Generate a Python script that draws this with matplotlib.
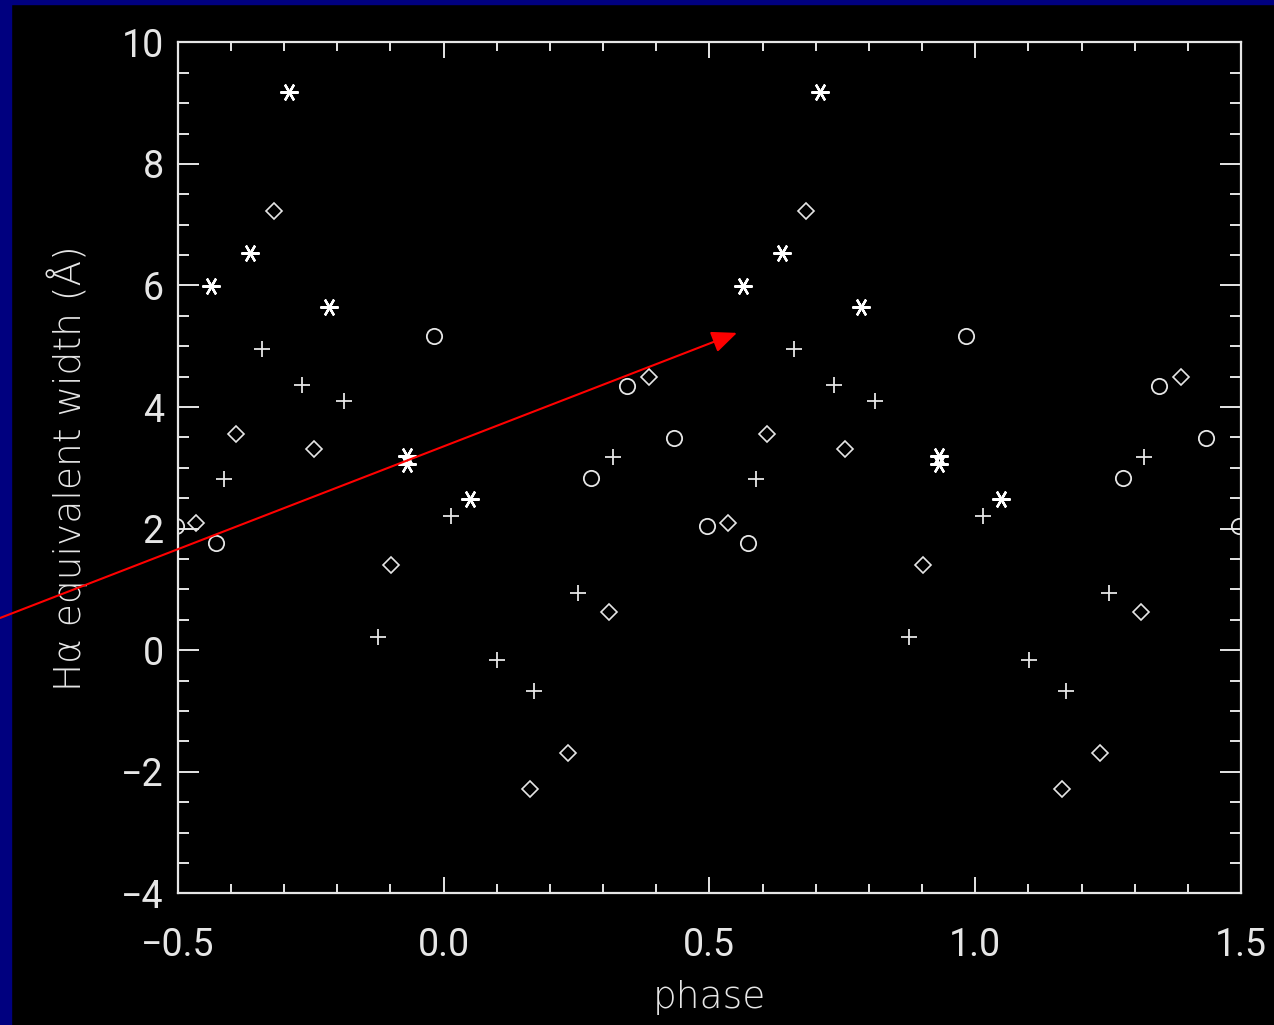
import numpy as np
import matplotlib
matplotlib.use("Agg")
import matplotlib.pyplot as plt
from matplotlib.patches import Rectangle
from matplotlib.ticker import MultipleLocator

# H-alpha equivalent width vs orbital phase, four kinds of symbols
# phases read off in [0, 1); each point is drawn once per cycle shown
star_phase = [0.563, 0.636, 0.709, 0.785, 0.931, 0.931, 0.049]
star_ew = [5.99, 6.54, 9.19, 5.64, 3.20, 3.06, 2.49]

plus_phase = [0.587, 0.659, 0.734, 0.812, 0.876, 0.014, 0.101, 0.170, 0.252, 0.318]
plus_ew = [2.82, 4.95, 4.36, 4.10, 0.21, 2.21, -0.16, -0.68, 0.94, 3.18]

diam_phase = [0.535, 0.609, 0.682, 0.756, 0.902, 0.163, 0.235, 0.312, 0.387]
diam_ew = [2.10, 3.55, 7.23, 3.31, 1.40, -2.29, -1.69, 0.63, 4.49]

circ_phase = [0.496, 0.572, 0.982, 0.278, 0.346, 0.434]
circ_ew = [2.04, 1.76, 5.17, 2.84, 4.34, 3.49]

cycles = [-1, 0, 1]

# arrow (annotation), data coords
arrow_tail = (-0.834, 0.53)
arrow_head = (0.552, 5.22)

fg = "#e6e6e6"
plt.rcParams["font.family"] = ["Roboto", "DejaVu Sans"]

fig = plt.figure(figsize=(12.74, 10.25), dpi=100, facecolor="black")
# navy frame strips on left and top
fig.patches.append(Rectangle((0, 0), 11 / 1274, 1, transform=fig.transFigure,
                             color="#00007f", zorder=-1))
fig.patches.append(Rectangle((0, 1 - 4 / 1025), 1, 4 / 1025, transform=fig.transFigure,
                             color="#00007f", zorder=-1))

ax = fig.add_axes([0.1395, 0.1285, 0.9741 - 0.1395, 0.9587 - 0.1285])
ax.set_facecolor("black")

def plot_set(ph, ew, **kw):
    ph = np.asarray(ph)
    for c in cycles:
        ax.plot(ph + c, ew, ls="none", **kw)

plot_set(star_phase, star_ew, marker=(6, 2, 90), ms=13, mec="white", mew=1.7)
plot_set(plus_phase, plus_ew, marker="+", ms=12, mec=fg, mew=1.3)
plot_set(diam_phase, diam_ew, marker="D", ms=8, mfc="none", mec=fg, mew=1.2)
plot_set(circ_phase, circ_ew, marker="o", ms=11, mfc="none", mec=fg, mew=1.3)

ax.set_xlim(-0.5, 1.5)
ax.set_ylim(-4, 10)

ax.xaxis.set_major_locator(MultipleLocator(0.5))
ax.xaxis.set_minor_locator(MultipleLocator(0.1))
ax.yaxis.set_major_locator(MultipleLocator(2))
ax.yaxis.set_minor_locator(MultipleLocator(0.5))
ax.xaxis.set_major_formatter(lambda v, p: "{:.1f}".format(v).replace("-", "\u2212"))
ax.yaxis.set_major_formatter(lambda v, p: "{:d}".format(int(round(v))).replace("-", "\u2212"))

for s in ax.spines.values():
    s.set_color(fg)
    s.set_linewidth(1.6)

ax.tick_params(axis="x", which="both", direction="in", top=True, bottom=True,
               colors=fg, width=1.4, labelsize=27, pad=24)
ax.tick_params(axis="x", which="major", length=11.5)
ax.tick_params(axis="x", which="minor", length=6.5)
ax.tick_params(axis="y", which="both", direction="in", left=True, right=True,
               colors=fg, width=1.4, labelsize=27, pad=10)
ax.tick_params(axis="y", which="major", length=15)
ax.tick_params(axis="y", which="minor", length=8)

ax.set_xlabel("phase", color=fg, fontsize=27, labelpad=12,
              family=["DejaVu Sans"], fontweight="light")
ax.set_ylabel("H\u03b1 equivalent width (\u00c5)", color=fg, fontsize=27, labelpad=24,
              family=["DejaVu Sans"], fontweight="light")

ax.annotate("", xy=arrow_head, xytext=arrow_tail, xycoords="data", textcoords="data",
            annotation_clip=False,
            arrowprops=dict(arrowstyle="-|>,head_length=0.7,head_width=0.3",
                            color="red", lw=1.5, mutation_scale=22,
                            shrinkA=0, shrinkB=0))

fig.savefig("out.png", dpi=100, facecolor=fig.get_facecolor())
